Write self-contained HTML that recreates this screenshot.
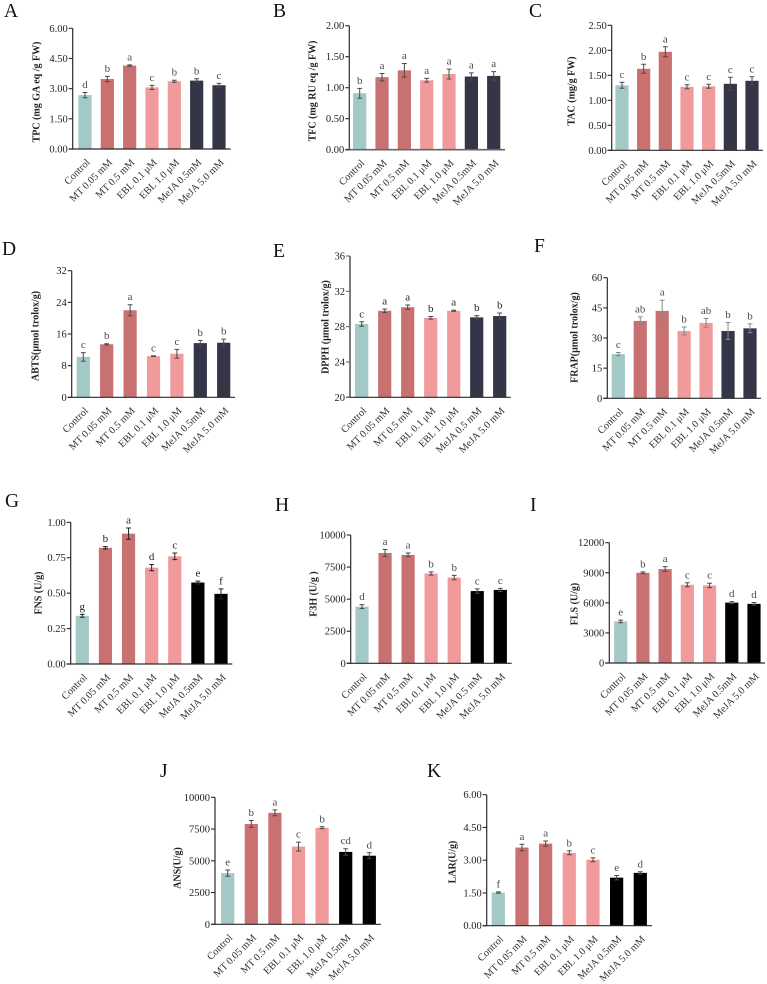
<!DOCTYPE html>
<html lang="en">
<head>
<meta charset="utf-8">
<title>Antioxidant and enzyme activity bar charts</title>
<style>
html,body{margin:0;padding:0;background:#fff;}
body{width:767px;height:984px;overflow:hidden;}
svg{display:block;filter:blur(.35px);}
text{font-family:"Liberation Serif","Noto Serif CJK SC",serif;}
</style>
</head>
<body>
<svg id="figure" xmlns="http://www.w3.org/2000/svg" width="767" height="984" viewBox="0 0 767 984"></svg>
<script>
// ---- data ----
const categories = ["Control","MT 0.05 mM","MT 0.5 mM","EBL 0.1 μM","EBL 1.0 μM","MeJA 0.5mM","MeJA 5.0 mM"];
const categoriesSpaced = ["Control","MT 0.05 mM","MT 0.5 mM","EBL 0.1 μM","EBL 1.0 μM","MeJA 0.5 mM","MeJA 5.0 mM"];

const valuesA = [2.68,3.48,4.15,3.06,3.37,3.40,3.17];
const errorsA = [0.13,0.13,0.03,0.10,0.05,0.09,0.09];
const lettersA = ["d","b","a","c","b","b","c"];
const ticksA = ["0.00","1.50","3.00","4.50","6.00"];

const valuesB = [0.91,1.17,1.28,1.12,1.22,1.18,1.19];
const errorsB = [0.08,0.06,0.11,0.03,0.08,0.06,0.07];
const lettersB = ["b","a","a","a","a","a","a"];
const ticksB = ["0.00","0.50","1.00","1.50","2.00"];

const valuesC = [1.30,1.63,1.97,1.27,1.28,1.33,1.39];
const errorsC = [0.06,0.09,0.10,0.04,0.04,0.13,0.08];
const lettersC = ["c","b","a","c","c","c","c"];
const ticksC = ["0.00","0.50","1.00","1.50","2.00","2.50"];

const valuesD = [10.2,13.4,22.0,10.4,11.0,13.7,13.8];
const errorsD = [1.1,0.15,1.4,0.1,1.1,0.7,0.9];
const lettersD = ["c","b","a","c","c","b","b"];
const ticksD = ["0","8","16","24","32"];

const valuesE = [28.3,29.8,30.2,29.0,29.8,29.05,29.2];
const errorsE = [0.25,0.2,0.25,0.15,0.07,0.2,0.35];
const lettersE = ["c","a","a","b","a","b","b"];
const ticksE = ["20","24","28","32","36"];

const valuesF = [22.0,38.5,43.5,33.5,37.5,33.5,34.8];
const errorsF = [0.8,2.0,5.3,2.0,2.2,4.2,2.2];
const lettersF = ["c","ab","a","b","ab","b","b"];
const ticksF = ["0","15","30","45","60"];

const valuesG = [0.34,0.82,0.92,0.68,0.76,0.575,0.495];
const errorsG = [0.01,0.008,0.04,0.022,0.023,0.01,0.035];
const lettersG = ["g","b","a","d","c","e","f"];
const ticksG = ["0.00","0.25","0.50","0.75","1.00"];

const valuesH = [4420,8600,8450,7000,6680,5630,5720];
const errorsH = [150,270,150,130,170,170,120];
const lettersH = ["d","a","a","b","b","c","c"];
const ticksH = ["0","2500","5000","7500","10000"];

const valuesI = [4150,9000,9370,7800,7740,6020,5900];
const errorsI = [130,90,240,200,220,100,130];
const lettersI = ["e","b","a","c","c","d","d"];
const ticksI = ["0","3000","6000","9000","12000"];

const valuesJ = [4030,7900,8780,6120,7600,5700,5400];
const errorsJ = [250,270,230,350,80,250,230];
const lettersJ = ["e","b","a","c","b","cd","d"];
const ticksJ = ["0","2500","5000","7500","10000"];

const valuesK = [1.52,3.58,3.76,3.34,3.02,2.20,2.42];
const errorsK = [0.03,0.15,0.12,0.09,0.09,0.10,0.05];
const lettersK = ["f","a","a","b","c","e","d"];
const ticksK = ["0.00","1.50","3.00","4.50","6.00"];

// ---- panel layout ----
const panels = [
 {id:"a",head:"A",hx:4,hy:17,title:"TPC (mg GA eq /g FW)",tx:36,ty:92,ax:72.7,top:28.3,bot:149,right:230.7,x0:85,x1:219,vals:valuesA,errs:errorsA,lets:lettersA,ticks:ticksA,cats:categories,dark:"#343648"},
 {id:"b",head:"B",hx:273,hy:17,title:"TFC (mg RU eq /g FW)",tx:312,ty:91,ax:349.3,top:25.7,bot:149.7,right:505,x0:359.7,x1:493.7,vals:valuesB,errs:errorsB,lets:lettersB,ticks:ticksB,cats:categories,dark:"#343648",baseCol:"#666",baseW:1.6},
 {id:"c",head:"C",hx:529,hy:17,title:"TAC (mg/g FW)",tx:571,ty:91,ax:611.7,top:25.3,bot:150.3,right:763,x0:622,x1:752,vals:valuesC,errs:errorsC,lets:lettersC,ticks:ticksC,cats:categories,dark:"#343648"},
 {id:"d",head:"D",hx:2,hy:255,title:"ABTS(μmol trolox/g)",tx:35,ty:336,ax:71.7,top:270.7,bot:397.3,right:235,x0:83.3,x1:223.7,vals:valuesD,errs:errorsD,lets:lettersD,ticks:ticksD,cats:categories,dark:"#343648"},
 {id:"e",head:"E",hx:273,hy:257,title:"DPPH (μmol trolox/g)",tx:325,ty:327,ax:350,top:256,bot:397.3,right:510.7,x0:361.7,x1:499.7,vals:valuesE,errs:errorsE,lets:lettersE,ticks:ticksE,cats:categoriesSpaced,dark:"#343648",axisCol:"#666",axisW:1.7,letCol:"#222"},
 {id:"f",head:"F",hx:534,hy:252,title:"FRAP(μmol trolox/g)",tx:574,ty:337.5,ax:607.3,top:277.7,bot:398.3,right:761,x0:618.3,x1:750,vals:valuesF,errs:errorsF,lets:lettersF,ticks:ticksF,cats:categories,dark:"#343648",errCol:"#8a8a8a"},
 {id:"g",head:"G",hx:5,hy:507,title:"FNS (U/g)",tx:38,ty:593,ax:70.7,top:522.3,bot:664,right:232.3,x0:82.3,x1:221,vals:valuesG,errs:errorsG,lets:lettersG,ticks:ticksG,cats:categories,dark:"#000",errCol:"#222",letCol:"#222"},
 {id:"h",head:"H",hx:275,hy:511,title:"F3H (U/g )",tx:313,ty:594,ax:350.7,top:535,bot:663.3,right:511.7,x0:362,x1:500.3,vals:valuesH,errs:errorsH,lets:lettersH,ticks:ticksH,cats:categoriesSpaced,dark:"#000"},
 {id:"i",head:"I",hx:530,hy:511,title:"FLS (U/g)",tx:574,ty:604,ax:609.3,top:542.7,bot:663,right:765,x0:620.7,x1:754,vals:valuesI,errs:errorsI,lets:lettersI,ticks:ticksI,cats:categories,dark:"#000"},
 {id:"j",head:"J",hx:160,hy:777,title:"ANS(U/g)",tx:177,ty:868,ax:215,top:797.3,bot:924.3,right:381,x0:227.7,x1:369.3,vals:valuesJ,errs:errorsJ,lets:lettersJ,ticks:ticksJ,cats:categories,dark:"#000"},
 {id:"k",head:"K",hx:427,hy:777,title:"LAR(U/g)",tx:452,ty:862,ax:486.7,top:794.7,bot:925.7,right:652,x0:498.3,x1:640.3,vals:valuesK,errs:errorsK,lets:lettersK,ticks:ticksK,cats:categories,dark:"#000"}
];

// ---- drawing ----
const NS = "http://www.w3.org/2000/svg";
const fig = document.getElementById("figure");

function make(tag, parent, attrs, txt){
  const el = document.createElementNS(NS, tag);
  for (const k in attrs) el.setAttribute(k, attrs[k]);
  if (txt !== undefined) el.textContent = txt;
  parent.appendChild(el);
  return el;
}

function barColor(i, p){
  if (i === 0) return "#a2c9c6";
  if (i < 3) return "#c97071";
  if (i < 5) return "#f09a9c";
  return p.dark;
}

panels.forEach(function(p){
  const tickNums = p.ticks.map(Number);
  const yMin = tickNums[0];
  const yMax = tickNums[tickNums.length - 1];
  const yScale = function(v){ return p.bot - (v - yMin) / (yMax - yMin) * (p.bot - p.top); };
  const xScale = function(i){ return p.x0 + i * (p.x1 - p.x0) / (p.vals.length - 1); };
  const axisCol = p.axisCol || "#2a2a2a";
  const axisW = p.axisW || 1.2;
  const baseCol = p.baseCol || "#2a2a2a";
  const baseW = p.baseW || 1.2;
  const errCol = p.errCol || "#4a4a4a";
  const letCol = p.letCol || "#4a4a4a";
  const barW = 13.2;

  const g = make("g", fig, {});
  
  

  const head = make("text", g, {x:p.hx, y:p.hy, "font-size":19.5, fill:"#111"}, p.head);
  
  

  p.vals.forEach(function(v, i){
    const cx = xScale(i);
    const yTop = yScale(v);
    const bar = make("rect", g, {x:cx - barW / 2, y:yTop, width:barW, height:p.bot - yTop, fill:barColor(i, p)});
    
    

    const e = p.errs[i];
    const eTop = yScale(v + e);
    const eBot = yScale(v - e);
    const err = make("path", g, {d:"M"+(cx-2.4)+" "+eTop+"H"+(cx+2.4)+"M"+cx+" "+eTop+"V"+eBot+"M"+(cx-2.4)+" "+eBot+"H"+(cx+2.4), stroke:errCol, "stroke-width":1, fill:"none"});
    
    

    const lab = make("text", g, {x:cx, y:eTop - 4.5, "font-size":11, fill:letCol, "text-anchor":"middle"}, p.lets[i]);
    
    

    const ax = cx + 5.5;
    const ay = p.bot + 14;
    const cat = make("text", g, {x:ax, y:ay, "font-size":10.3, fill:"#333", "text-anchor":"end", transform:"rotate(-45 "+ax+" "+ay+")"}, p.cats[i]);
    
    
  });

  const yAxis = make("line", g, {x1:p.ax, x2:p.ax, y1:p.top, y2:p.bot, stroke:axisCol, "stroke-width":axisW});
  
  

  const xAxis = make("line", g, {x1:p.ax - 4, x2:p.right, y1:p.bot, y2:p.bot, stroke:baseCol, "stroke-width":baseW});
  
  

  p.ticks.forEach(function(t, i){
    const y = yScale(tickNums[i]);
    const tk = make("line", g, {x1:p.ax - 4, x2:p.ax, y1:y, y2:y, stroke:axisCol, "stroke-width":1.1});
    
    
    const tl = make("text", g, {x:p.ax - 5, y:y + 3.5, "font-size":10.5, fill:"#222", "text-anchor":"end"}, t);
    
    
  });

  const title = make("text", g, {x:p.tx + 3.3, y:p.ty, "font-size":10, "font-weight":"bold", fill:"#222", "text-anchor":"middle", transform:"rotate(-90 "+(p.tx + 3.3)+" "+p.ty+")"}, p.title);
  
  
});
</script>
</body>
</html>
